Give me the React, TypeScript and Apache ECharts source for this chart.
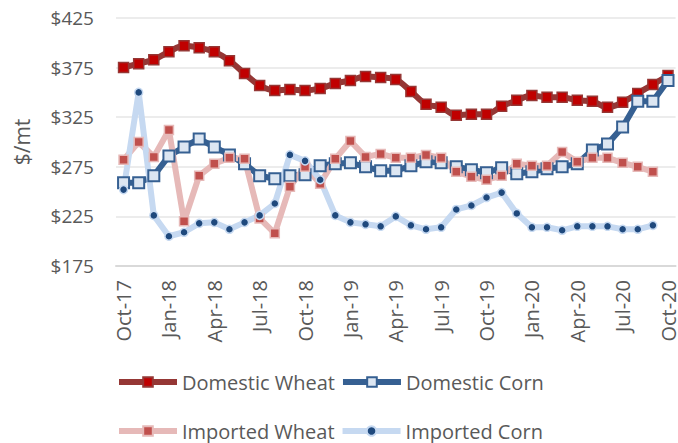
import React, { useEffect, useRef } from "react";
import * as echarts from "echarts";

const months = [
  "Oct-17", "Nov-17", "Dec-17", "Jan-18", "Feb-18", "Mar-18", "Apr-18", "May-18", "Jun-18",
  "Jul-18", "Aug-18", "Sep-18", "Oct-18", "Nov-18", "Dec-18", "Jan-19", "Feb-19", "Mar-19",
  "Apr-19", "May-19", "Jun-19", "Jul-19", "Aug-19", "Sep-19", "Oct-19", "Nov-19", "Dec-19",
  "Jan-20", "Feb-20", "Mar-20", "Apr-20", "May-20", "Jun-20", "Jul-20", "Aug-20", "Sep-20", "Oct-20",
];

const domesticWheat = [
  375, 379, 383, 391, 397, 395, 391, 382, 369, 357, 352, 353, 352, 354, 359, 362, 366, 365, 363,
  351, 338, 335, 327, 328, 328, 336, 342, 347, 345, 345, 342, 341, 335, 340, 349, 358, 367,
];

const domesticCorn = [
  259, 259, 266, 286, 295, 303, 295, 287, 278, 266, 263, 266, 267, 276, 278, 279, 275, 271, 271,
  276, 280, 279, 275, 272, 269, 274, 268, 270, 273, 275, 278, 292, 298, 315, 341, 341, 362,
];

const importedWheat = [
  282, 300, 285, 312, 220, 266, 278, 284, 283, 223, 208, 255, 275, 258, 283, 301, 285, 288, 284,
  284, 287, 284, 270, 265, 262, 266, 278, 276, 276, 290, 280, 284, 284, 279, 275, 270, null,
];

const importedCorn = [
  252, 350, 226, 205, 209, 218, 219, 212, 219, 226, 238, 287, 281, 262, 226, 219, 217, 215, 225,
  216, 212, 214, 232, 236, 244, 249, 228, 214, 214, 211, 215, 215, 215, 212, 212, 216, null,
];

const yTicks = { min: 175, max: 425, step: 50 };

const FONT = "'Open Sans', 'Liberation Sans', sans-serif";
const TEXT = "#595959";

export default function App() {
  const ref = useRef<HTMLDivElement>(null);
  useEffect(() => {
    if (!ref.current) return;
    const chart = echarts.init(ref.current, null, { renderer: "svg" });
    const mk = (
      name: string,
      data: (number | null)[],
      line: string,
      fill: string,
      symbol: string,
      size: number,
      smooth: number | boolean,
      lw: number,
      bw: number
    ) => ({
      name,
      type: "line",
      data,
      smooth,
      symbol,
      symbolSize: size,
      showSymbol: true,
      showAllSymbol: true,
      lineStyle: { color: line, width: lw },
      itemStyle: { color: fill, borderColor: line, borderWidth: bw },
      emphasis: { disabled: true },
    });
    const legendBase = {
      left: 116,
      itemWidth: 58,
      itemHeight: 12,
      itemGap: 5,
      padding: 0,
      lineStyle: { width: 6 },
      textStyle: { color: TEXT, fontSize: 20, fontFamily: FONT },
    };
    chart.setOption({
      animation: false,
      grid: { left: 116, right: 2, top: 18, bottom: 177, containLabel: false },
      xAxis: {
        type: "category",
        data: months,
        boundaryGap: true,
        axisLine: { show: true, lineStyle: { color: "#D9D9D9", width: 2 } },
        axisTick: { show: false },
        axisLabel: {
          interval: 2,
          rotate: 90,
          margin: 14,
          color: TEXT,
          fontSize: 20,
          fontFamily: FONT,
        },
      },
      yAxis: {
        type: "value",
        min: yTicks.min,
        max: yTicks.max,
        interval: yTicks.step,
        name: "$/mt",
        nameLocation: "middle",
        nameGap: 84,
        nameTextStyle: { color: TEXT, fontSize: 21, fontFamily: FONT },
        axisLine: { show: false },
        axisTick: { show: false },
        axisLabel: {
          color: TEXT,
          fontSize: 19,
          fontFamily: FONT,
          margin: 22,
          formatter: (v: number) => "$" + v,
        },
        splitLine: { lineStyle: { color: "#E6E6E6", width: 1.5 } },
      },
      legend: [
        { ...legendBase, data: ["Domestic Wheat", "Domestic Corn"], top: 372 },
        { ...legendBase, data: ["Imported Wheat", "Imported Corn"], top: 421 },
      ],
      series: [
        mk("Domestic Wheat", domesticWheat, "#953735", "#C00000", "rect", 10, 0.35, 6, 1.5),
        mk("Domestic Corn", domesticCorn, "#366092", "#DCE6F2", "rect", 11, false, 6, 2),
        mk("Imported Wheat", importedWheat, "#E6B9B8", "#C0504D", "rect", 9, false, 6, 1.5),
        mk("Imported Corn", importedCorn, "#C6D9F1", "#1F497D", "circle", 8, false, 6, 1.5),
      ],
    });
    return () => chart.dispose();
  }, []);
  return (
    <div
      ref={ref}
      style={{ position: "fixed", left: 0, top: 0, width: 678, height: 443, background: "#fff" }}
    />
  );
}
